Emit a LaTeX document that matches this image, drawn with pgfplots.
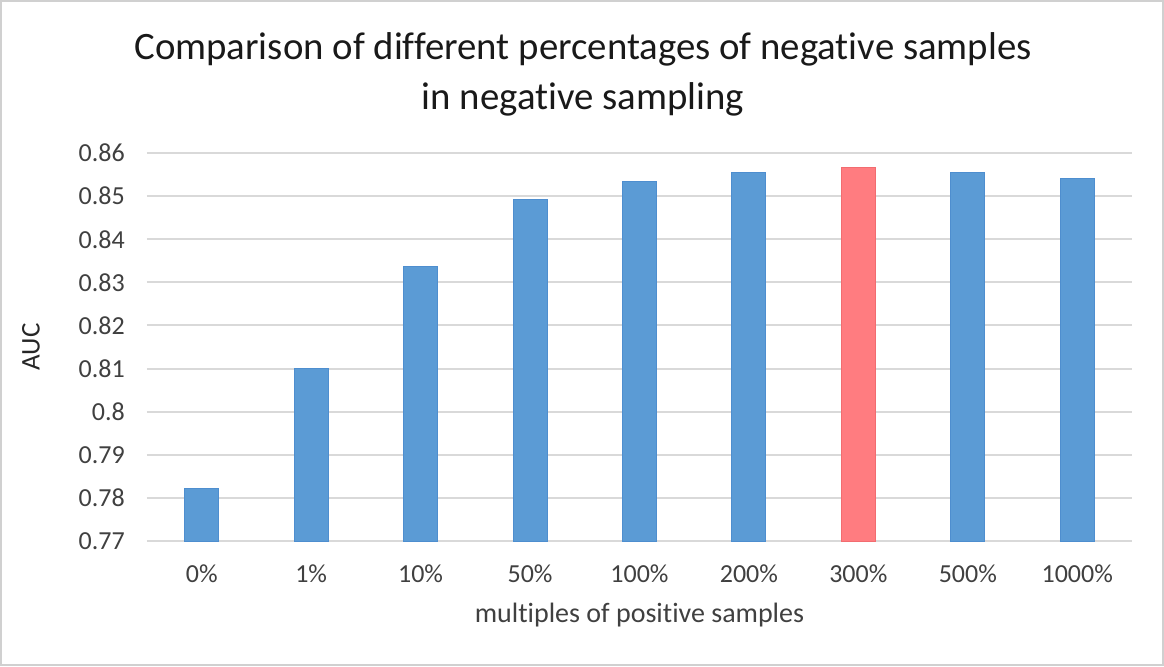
\documentclass[border=0pt]{standalone}
\usepackage{pgfplots}
\pgfplotsset{compat=1.18}
\usepackage{fontspec}
\setmainfont{Carlito}[Ligatures={NoCommon,NoRequired,NoContextual}]
\definecolor{barblue}{HTML}{5B9BD5}
\definecolor{bluedge}{HTML}{4E8ECF}
\definecolor{barred}{HTML}{FF7C80}
\definecolor{rededge}{HTML}{F26C70}
\definecolor{gridgray}{HTML}{D9D9D9}
\definecolor{txt}{HTML}{404040}
\begin{document}
\begin{tikzpicture}
\begin{axis}[
  at={(0,0)}, anchor=south west,
  scale only axis,
  width=492.5pt, height=194pt,
  xmin=-0.5, xmax=8.5,
  ymin=0.77, ymax=0.86,
  ytick={0.77,0.78,0.79,0.80,0.81,0.82,0.83,0.84,0.85,0.86},
  xtick={0,1,2,3,4,5,6,7,8},
  xticklabels={0\%,1\%,10\%,50\%,100\%,200\%,300\%,500\%,1000\%},
  ymajorgrids,
  grid style={gridgray, line width=1pt},
  axis line style={draw=none},
  tick style={draw=none},
  major tick length=0pt,
  /pgf/number format/assume math mode=true,
  /pgf/number format/fixed,
  /pgf/number format/precision=2,
  yticklabel style={anchor=east, inner sep=0pt, xshift=-10.9pt, font=\fontsize{13}{15}\selectfont, text=txt},
  xticklabel style={anchor=base, inner sep=0pt, yshift=-20.9pt, font=\fontsize{13}{15}\selectfont, text=txt},
  ybar, bar width=17pt,
  clip=true,
]
\addplot[fill=barblue, draw=bluedge, line width=0.5pt, bar shift=0pt] coordinates {
  (0,0.7822) (1,0.8101) (2,0.8336) (3,0.8492) (4,0.8533) (5,0.8554) (7,0.8554) (8,0.8542)
};
\addplot[fill=barred, draw=rededge, line width=0.5pt, bar shift=0pt] coordinates {
  (6,0.8567)
};
\end{axis}
\node[anchor=base, inner sep=0pt, text=black!90, font=\fontsize{19.4}{23}\selectfont] at (218pt,240.5pt) {Comparison of different percentages of negative samples};
\node[anchor=base, inner sep=0pt, text=black!90, font=\fontsize{19.4}{23}\selectfont] at (218pt,216pt) {in negative sampling};
\node[anchor=center, inner sep=0pt, rotate=90, text=black!85, font=\fontsize{13.5}{16}\selectfont] at (-58pt,97pt) {AUC};
\node[anchor=base, inner sep=0pt, text=txt, font=\fontsize{14}{16}\selectfont] at (246.25pt,-40.9pt) {multiples of positive samples};
\draw[gridgray!90!gray, line width=1pt] (-73pt,-62pt) rectangle (508pt,270pt);
\end{tikzpicture}
\end{document}
